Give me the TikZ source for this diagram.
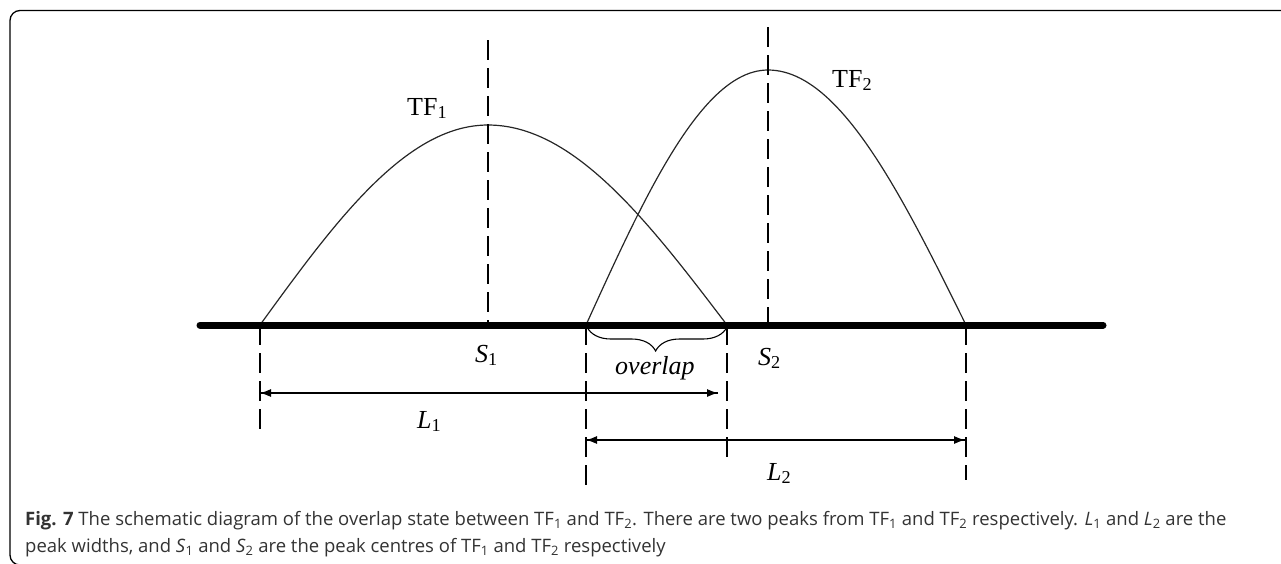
\documentclass[tikz,border=0pt]{standalone}
\usepackage{fontspec}
\setmainfont{Liberation Serif}
\newfontfamily\capfont{Open Sans}
\usetikzlibrary{arrows.meta,decorations.pathreplacing}
\begin{document}
\begin{tikzpicture}[x=1pt,y=-1pt,
  curve/.style={line width=1.2pt, black!85},
  guide/.style={line width=1.3pt, dash pattern=on 20pt off 8pt},
  dim/.style={line width=1.2pt, -{Latex[length=11pt,width=8pt]}},
  lab/.style={anchor=base west, inner sep=0pt, font=\fontsize{26}{30}\selectfont},
  caption/.style={anchor=base west, inner sep=0pt, text=black!80, font=\capfont\fontsize{18.5}{22}\selectfont}]
\useasboundingbox (0,0) rectangle (1281,563);
\clip (0,0) rectangle (1281,563);
% frame
\draw[line width=1.3pt, rounded corners=10pt] (10,10.5) rectangle (1320,565);
% coordinates
\coordinate (axL) at (200,325);
\coordinate (axR) at (1103,325);
\coordinate (a1) at (260,325);
\coordinate (p1) at (488,125);
\coordinate (b1) at (727,325);
\coordinate (a2) at (586,325);
\coordinate (p2) at (768,70);
\coordinate (b2) at (966,325);
\coordinate (t1) at (488,40);
\coordinate (t2) at (768,27);
\coordinate (d1) at (260,435);
\coordinate (d2) at (586,492);
\coordinate (d3) at (727,457);
\coordinate (d4) at (966,480);
% curves
\draw[curve] plot[domain=0:90, samples=50] ({260+\x/90*228}, {325-200*sin(\x)})
  -- plot[domain=90:180, samples=50] ({488+(\x-90)/90*239}, {325-200*sin(\x)});
\draw[curve] plot[domain=0:90, samples=50] ({586+\x/90*182}, {325-255*sin(\x)})
  -- plot[domain=90:180, samples=50] ({768+(\x-90)/90*198}, {325-255*sin(\x)});
% axis
\draw[line width=7pt, line cap=round] (axL) -- (axR);
% guides
\draw[guide] (t1) -- (488,325);
\draw[guide] (t2) -- (768,325);
\draw[guide] (a1) -- (d1);
\draw[guide] (a2) -- (d2);
\draw[guide] (b1) -- (d3);
\draw[guide] (b2) -- (d4);
% dimension arrows
\coordinate (l1a) at (260,393);
\coordinate (l1b) at (718,393);
\coordinate (l2a) at (586,440);
\coordinate (l2b) at (965,440);
\draw[dim] (l1a) -- (l1b);
\draw[dim] (l1b) -- (l1a);
\draw[dim] (l2a) -- (l2b);
\draw[dim] (l2b) -- (l2a);
% brace
\draw[line width=1.1pt, decorate, decoration={brace, mirror, amplitude=24pt, aspect=0.49}] (587,327) -- (727,327);
% labels
\node[lab] (tf1) at (407,115) {TF\textsubscript{1}};
\node[lab] (tf2) at (832,87) {TF\textsubscript{2}};
\node[lab] (s1) at (475,362) {\textit{S}\textsubscript{1}};
\node[lab] (s2) at (758,365) {\textit{S}\textsubscript{2}};
\node[lab] (L1) at (417,428) {\textit{L}\textsubscript{1}};
\node[lab] (L2) at (767,480) {\textit{L}\textsubscript{2}};
\node[lab] (ov) at (615,374) {\textit{overlap}};
% caption
\node[caption] (cap1) at (25,525) {\textbf{Fig. 7} The schematic diagram of the overlap state between TF\textsubscript{1} and TF\textsubscript{2}. There are two peaks from TF\textsubscript{1} and TF\textsubscript{2} respectively. \textit{L}\textsubscript{1} and \textit{L}\textsubscript{2} are the};
\node[caption] (cap2) at (25,552) {peak widths, and \textit{S}\textsubscript{1} and \textit{S}\textsubscript{2} are the peak centres of TF\textsubscript{1} and TF\textsubscript{2} respectively};
\end{tikzpicture}
\end{document}
